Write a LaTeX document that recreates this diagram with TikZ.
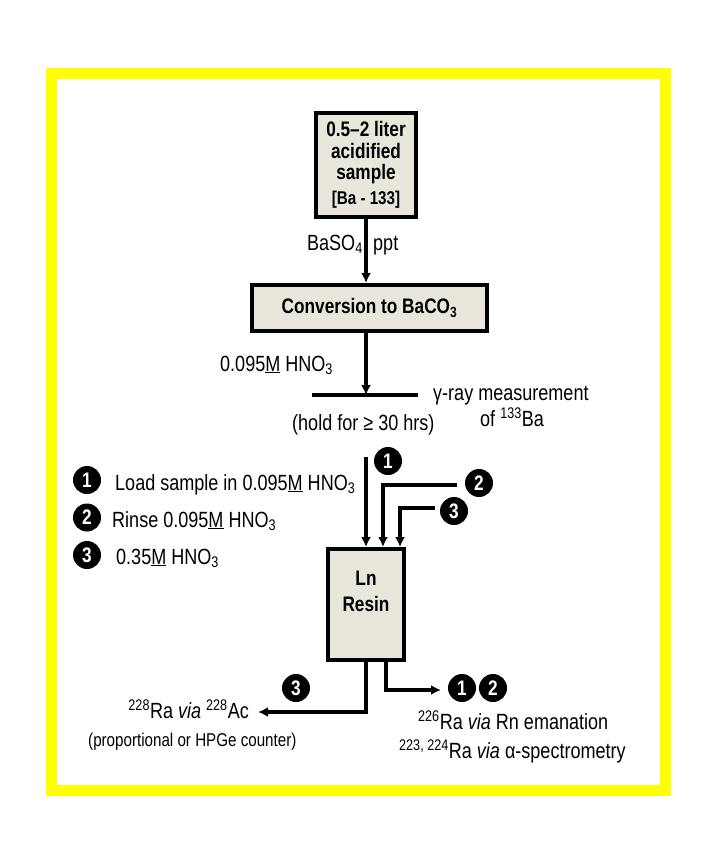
\documentclass[tikz,border=0pt]{standalone}
\usepackage{fontspec}
\setmainfont{Liberation Sans}[FakeStretch=0.82]
\usetikzlibrary{arrows.meta}
\definecolor{boxfill}{RGB}{233,231,220}
\definecolor{ybord}{RGB}{255,255,0}
\newcommand\fsReg{\fontsize{22}{26}\selectfont}
\newcommand\fsSmall{\fontsize{18.5}{22}\selectfont}
\newcommand\fsBold{\fontsize{21}{21.5}\selectfont\bfseries}
\newcommand\fsSmallBold{\fontsize{18.5}{20}\selectfont\bfseries}
\begin{document}
\begin{tikzpicture}[x=1pt,y=-1pt,
  txt/.style={inner sep=0pt, font=\fsReg, text height=16pt, text depth=0pt},
  smalltxt/.style={inner sep=0pt, font=\fsSmall, text height=13pt, text depth=0pt},
  num/.style={circle, fill=black, text=white, inner sep=0pt, minimum size=28pt,
    font=\fontsize{21}{21}\selectfont\bfseries},
  procbox/.style={draw=black, line width=4pt, fill=boxfill, inner sep=0pt,
    align=center, font=\fsBold},
  boxtxt/.style={inner sep=0pt, align=center, font=\fsBold},
  arr/.style={line width=3.2pt, -{Latex[length=10pt,width=10pt]}},
  barline/.style={line width=4pt}
]
\useasboundingbox (0,0) rectangle (720,864);
% yellow frame
\draw[ybord, line width=11pt] (51,74) rectangle (665.5,790);

% boxes
\node[procbox, minimum width=100pt, minimum height=104pt] (top) at (366,165)
  {0.5–2 liter\\acidified\\sample\\[3pt]{\fsSmallBold [Ba - 133]}};
\node[procbox, minimum width=235pt, minimum height=46pt] (conv) at (369.5,308)
  {Conversion to BaCO\textsubscript{3}};
\node[procbox, minimum width=76pt, minimum height=111pt] (resin) at (366,604.5) {};
\node[boxtxt] (resintxt) at (366,591.5) {Ln\\[5pt]Resin};

% first arrows
\draw[arr] (top.south) -- (top.south |- conv.north);
\node[txt, anchor=east] (baso) at (363,242) {BaSO\textsubscript{4}};
\node[txt, anchor=west] (ppt) at (373,242) {ppt};

\coordinate (barL) at (312,395);
\coordinate (barR) at (418,395);
\coordinate (barC) at (366,395);
\draw[barline] (barL) -- (barR);
\draw[arr] (conv.south -| barC) -- (barC);
\node[txt, anchor=west] (hno) at (220,363) {0.095\underline{M} HNO\textsubscript{3}};
\node[txt, anchor=west] (gamma) at (433,392) {γ-ray measurement};
\node[txt, anchor=west] (of) at (480,418) {of \textsuperscript{133}Ba};
\node[txt, anchor=west] (hold) at (292,422) {(hold for ≥ 30 hrs)};

% legend
\node[num] (L1) at (87,480) {1};
\node[num] (L2) at (87,517.5) {2};
\node[num] (L3) at (87,555) {3};
\node[txt, anchor=west] (leg1) at (115,482) {Load sample in 0.095\underline{M} HNO\textsubscript{3}};
\node[txt, anchor=west] (leg2) at (112,519) {Rinse 0.095\underline{M} HNO\textsubscript{3}};
\node[txt, anchor=west] (leg3) at (116,556) {0.35\underline{M} HNO\textsubscript{3}};

% inputs to resin
\node[num] (T1) at (388,461) {1};
\node[num] (T2) at (479,483) {2};
\node[num] (T3) at (454,511) {3};
\coordinate (in1) at (366,457);
\coordinate (in2) at (457,485);
\coordinate (in3) at (435,508);
\draw[arr] (in1) -- (in1 |- resin.north);
\draw[arr] (in2) -| ([xshift=17pt]resin.north);
\draw[arr] (in3) -| ([xshift=34pt]resin.north);

% outputs
\coordinate (outL) at (258,712);
\coordinate (outR) at (441,690);
\draw[arr] (resin.south) |- (outL);
\draw[arr] ([xshift=20pt]resin.south) |- (outR);
\node[num] (B3) at (296,688) {3};
\node[num] (B1) at (462,688) {1};
\node[num] (B2) at (493,688) {2};
\node[txt, anchor=east] (ra228) at (249,710) {\textsuperscript{228}Ra \textit{via} \textsuperscript{228}Ac};
\node[smalltxt, anchor=west] (prop) at (88,740) {(proportional or HPGe counter)};
\node[txt, anchor=west] (ra226) at (418,721) {\textsuperscript{226}Ra \textit{via} Rn emanation};
\node[txt, anchor=west] (ra223) at (399,750) {\textsuperscript{223, 224}Ra \textit{via} α-spectrometry};
\end{tikzpicture}
\end{document}
